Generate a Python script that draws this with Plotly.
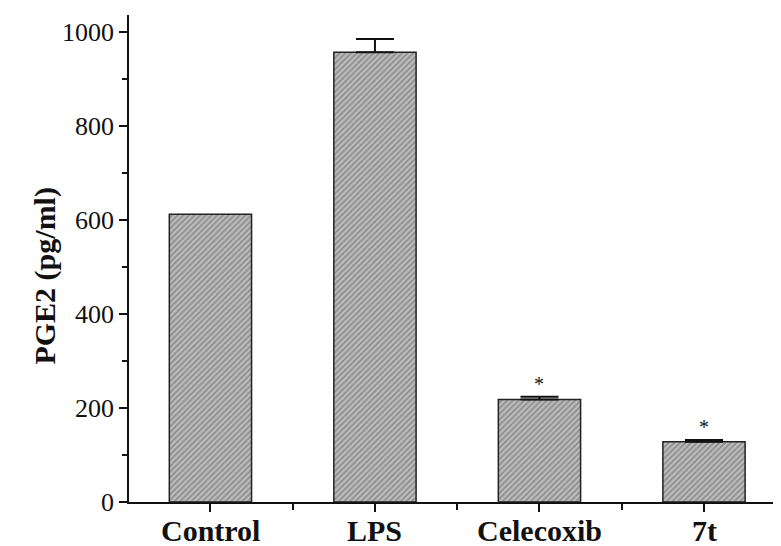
import plotly.graph_objects as go

categories = ["Control", "LPS", "Celecoxib", "7t"]
pge2_values = [612, 957, 218, 128]
pge2_errors = [0, 28, 6, 4]
significance = ["", "", "*", "*"]
y_ticks = [0, 200, 400, 600, 800, 1000]

x_pos = list(range(len(categories)))

fig = go.Figure()
fig.add_trace(go.Bar(
    x=x_pos,
    y=pge2_values,
    width=0.5,
    marker=dict(
        color="#a0a0a0",
        line=dict(color="#222222", width=1.5),
        pattern=dict(shape="/", fgcolor="#5a5a5a", bgcolor="#bdbdbd",
                     size=4, solidity=0.45),
    ),
    showlegend=False,
    hoverinfo="skip",
))

# error bars only for groups that have an error value
eb_x = [x for x, e in zip(x_pos, pge2_errors) if e > 0]
eb_y = [v for v, e in zip(pge2_values, pge2_errors) if e > 0]
eb_e = [e for e in pge2_errors if e > 0]
fig.add_trace(go.Scatter(
    x=eb_x, y=eb_y, mode="markers",
    marker=dict(size=1, color="rgba(0,0,0,0)"),
    error_y=dict(type="data", symmetric=False, array=eb_e,
                 arrayminus=[0] * len(eb_e),
                 color="#111111", thickness=2, width=19),
    showlegend=False, hoverinfo="skip",
))

for xi, v, e, s in zip(x_pos, pge2_values, pge2_errors, significance):
    if s:
        fig.add_annotation(x=xi, y=v + e, text=s, showarrow=False,
                           yanchor="middle", yshift=13,
                           font=dict(family="Liberation Serif", size=20, color="#111111"))

# category labels
for xi, c in zip(x_pos, categories):
    fig.add_annotation(x=xi, yref="paper", y=0, yanchor="top", yshift=-10,
                       text=f"<b>{c}</b>", showarrow=False,
                       font=dict(family="Liberation Serif", size=30, color="#111111"))

fig.add_annotation(xref="paper", yref="paper", x=0, y=0.465, xshift=-103,
                   text="<b>PGE2 (pg/ml)</b>", textangle=-90, showarrow=False,
                   font=dict(family="Liberation Serif", size=30, color="#111111"))

fig.update_layout(
    width=773, height=538,
    margin=dict(l=121, r=0, t=7, b=44),
    paper_bgcolor="white", plot_bgcolor="white",
    font=dict(family="Liberation Serif", color="#111111"),
)
fig.update_xaxes(
    range=[-0.495, 3.468],
    tickmode="array", tickvals=x_pos, showticklabels=False,
    showline=True, linecolor="#111111", linewidth=1.5,
    ticks="outside", ticklen=8, tickwidth=1.5, tickcolor="#111111",
    minor=dict(tickvals=[0.5, 1.5, 2.5], ticks="outside", ticklen=6,
               tickwidth=1.5, tickcolor="#111111"),
    showgrid=False, zeroline=False, fixedrange=True,
)
fig.update_yaxes(
    range=[0, 1036],
    tickmode="array", tickvals=y_ticks,
    tickfont=dict(family="Liberation Serif", size=26, color="#111111"),
    showline=True, linecolor="#111111", linewidth=1.5,
    ticks="outside", ticklen=8, tickwidth=1.5, tickcolor="#111111",
    minor=dict(tickvals=[100, 300, 500, 700, 900], ticks="outside", ticklen=5,
               tickwidth=1.5, tickcolor="#111111"),
    showgrid=False, zeroline=False, fixedrange=True,
)

fig.write_html("out.html")
